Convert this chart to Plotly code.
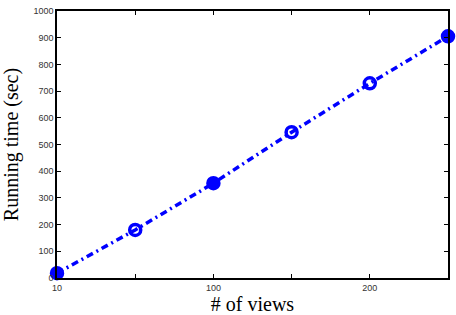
import plotly.graph_objects as go

views = ["10", "50", "100", "150", "200", "250"]
running_time = [18, 180, 355, 546, 729, 905]
x_tick_labels = ["10", "", "100", "", "200", ""]
y_tick_values = [0, 100, 200, 300, 400, 500, 600, 700, 800, 900, 1000]
marker_symbols = ["circle", "circle-open", "circle", "circle-open", "circle-open", "circle"]

fig = go.Figure()
fig.add_trace(go.Scatter(
    x=views, y=running_time, mode="lines+markers", cliponaxis=False,
    line=dict(color="#0000ff", width=3.5, dash="7px,4px,2px,4px"),
    marker=dict(symbol=marker_symbols, size=11, color="#0000ff",
                line=dict(color="#0000ff", width=3.5)),
    showlegend=False,
))

axis_font = dict(family="Liberation Sans, Arial", size=9, color="#333")
fig.update_layout(
    width=456, height=315,
    margin=dict(l=57, r=8, t=6, b=36),
    paper_bgcolor="white", plot_bgcolor="white",
    xaxis=dict(type="category", range=[0, 5], tickvals=views, ticktext=x_tick_labels,
               ticks="inside", ticklen=4, tickcolor="black", mirror="ticks",
               showline=True, linecolor="black", linewidth=1.5, showgrid=False,
               tickfont=axis_font,
               title=dict(text="# of views", standoff=2,
                          font=dict(family="Liberation Serif, Times New Roman", size=20, color="black"))),
    yaxis=dict(range=[0, 1000], tickvals=y_tick_values,
               ticks="inside", ticklen=4, tickcolor="black", mirror="ticks",
               showline=True, linecolor="black", linewidth=1.5, showgrid=False, zeroline=False,
               tickfont=axis_font,
               title=dict(text="Running time (sec)", standoff=10,
                          font=dict(family="Liberation Serif, Times New Roman", size=20, color="black"))),
)
fig.write_html("out.html")
